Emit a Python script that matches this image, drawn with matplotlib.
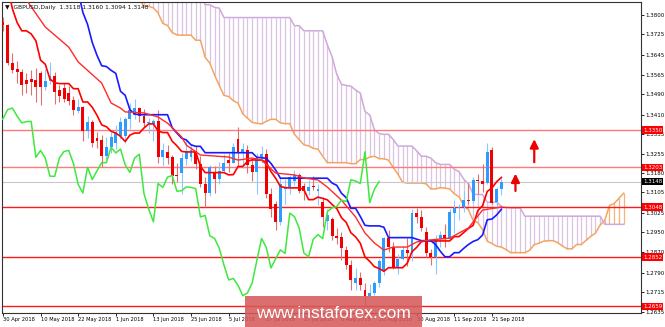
import numpy as np
import matplotlib.pyplot as plt
import matplotlib.transforms as mtransforms
from matplotlib.patches import Rectangle

# velas diarias GBPUSD, barra 0 = 30 abr 2018, barra 106 = 25 sep 2018
opens = [1.3775, 1.3761, 1.3613, 1.3590, 1.3579, 1.3545, 1.3550, 1.3546, 1.3575, 1.3520,
         1.3541, 1.3563, 1.3507, 1.3515, 1.3495, 1.3468, 1.3425, 1.3440, 1.3345, 1.3380,
         1.3320, 1.3310, 1.3248, 1.3283, 1.3300, 1.3325, 1.3328, 1.3394, 1.3410, 1.3436,
         1.3405, 1.3378, 1.3372, 1.3384, 1.3243, 1.3264, 1.3245, 1.3175, 1.3180, 1.3235,
         1.3245, 1.3268, 1.3218, 1.3137, 1.3103, 1.3185, 1.3156, 1.3190, 1.3233, 1.3222,
         1.3315, 1.3260, 1.3270, 1.3213, 1.3184, 1.3240, 1.3255, 1.3100, 1.3060, 1.2990,
         1.3120, 1.3125, 1.3150, 1.3172, 1.3130, 1.3112, 1.3130, 1.3110, 1.3068, 1.2995,
         1.3000, 1.2935, 1.2930, 1.2879, 1.2821, 1.2752, 1.2768, 1.2723, 1.2700, 1.2711,
         1.2750, 1.2801, 1.2925, 1.2891, 1.2809, 1.2845, 1.2880, 1.2866, 1.3024, 1.3010,
         1.2950, 1.2868, 1.2852, 1.2922, 1.2940, 1.2924, 1.3024, 1.3045, 1.3050, 1.3075,
         1.3070, 1.3155, 1.3150, 1.3142, 1.3270, 1.3068, 1.3118]
highs = [1.3795, 1.3767, 1.3652, 1.3622, 1.3590, 1.3575, 1.3584, 1.3593, 1.3580, 1.3588,
         1.3615, 1.3578, 1.3527, 1.3536, 1.3522, 1.3485, 1.3472, 1.3445, 1.3406, 1.3390,
         1.3341, 1.3330, 1.3322, 1.3344, 1.3370, 1.3400, 1.3400, 1.3456, 1.3472, 1.3440,
         1.3431, 1.3398, 1.3394, 1.3427, 1.3300, 1.3290, 1.3253, 1.3221, 1.3260, 1.3315,
         1.3297, 1.3289, 1.3250, 1.3165, 1.3212, 1.3207, 1.3225, 1.3255, 1.3260, 1.3300,
         1.3363, 1.3300, 1.3290, 1.3237, 1.3259, 1.3287, 1.3276, 1.3124, 1.3070, 1.3163,
         1.3158, 1.3175, 1.3195, 1.3182, 1.3141, 1.3155, 1.3170, 1.3140, 1.3089, 1.3042,
         1.3009, 1.2966, 1.2952, 1.2895, 1.2841, 1.2808, 1.2792, 1.2752, 1.2747, 1.2759,
         1.2845, 1.2930, 1.2958, 1.2910, 1.2864, 1.2897, 1.2928, 1.3042, 1.3044, 1.3038,
         1.2970, 1.2883, 1.2940, 1.2954, 1.2980, 1.3040, 1.3077, 1.3060, 1.3110, 1.3141,
         1.3165, 1.3178, 1.3215, 1.3298, 1.3283, 1.3128, 1.3160]
lows = [1.3737, 1.3606, 1.3572, 1.3533, 1.3487, 1.3496, 1.3489, 1.3460, 1.3448, 1.3507,
        1.3530, 1.3452, 1.3459, 1.3460, 1.3448, 1.3409, 1.3416, 1.3305, 1.3320, 1.3285,
        1.3279, 1.3204, 1.3235, 1.3260, 1.3275, 1.3314, 1.3298, 1.3355, 1.3392, 1.3380,
        1.3362, 1.3340, 1.3305, 1.3220, 1.3207, 1.3218, 1.3140, 1.3146, 1.3100, 1.3214,
        1.3230, 1.3198, 1.3127, 1.3050, 1.3090, 1.3102, 1.3138, 1.3185, 1.3184, 1.3221,
        1.3205, 1.3201, 1.3180, 1.3150, 1.3100, 1.3220, 1.3085, 1.3010, 1.2958, 1.2978,
        1.3058, 1.3100, 1.3134, 1.3104, 1.3074, 1.3096, 1.3115, 1.3055, 1.2969, 1.2957,
        1.2920, 1.2902, 1.2841, 1.2806, 1.2723, 1.2722, 1.2722, 1.2661, 1.2697, 1.2704,
        1.2735, 1.2780, 1.2870, 1.2803, 1.2786, 1.2840, 1.2815, 1.2838, 1.2985, 1.2955,
        1.2853, 1.2820, 1.2786, 1.2891, 1.2890, 1.2920, 1.2948, 1.2996, 1.3029, 1.3060,
        1.3062, 1.3100, 1.3108, 1.3140, 1.3059, 1.3050, 1.3094]
closes = [1.3761, 1.3613, 1.3584, 1.3579, 1.3527, 1.3532, 1.3540, 1.3520, 1.3520, 1.3541,
          1.3563, 1.3499, 1.3482, 1.3470, 1.3463, 1.3430, 1.3440, 1.3345, 1.3380, 1.3300,
          1.3305, 1.3248, 1.3285, 1.3322, 1.3342, 1.3380, 1.3394, 1.3430, 1.3436, 1.3405,
          1.3378, 1.3383, 1.3384, 1.3243, 1.3270, 1.3240, 1.3169, 1.3168, 1.3240, 1.3266,
          1.3270, 1.3218, 1.3137, 1.3103, 1.3204, 1.3156, 1.3190, 1.3222, 1.3222, 1.3282,
          1.3260, 1.3275, 1.3213, 1.3184, 1.3240, 1.3255, 1.3100, 1.3040, 1.2990, 1.3140,
          1.3125, 1.3165, 1.3172, 1.3110, 1.3112, 1.3127, 1.3125, 1.3120, 1.3009, 1.3015,
          1.2935, 1.2925, 1.2887, 1.2821, 1.2762, 1.2768, 1.2741, 1.2700, 1.2711, 1.2750,
          1.2838, 1.2925, 1.2890, 1.2809, 1.2845, 1.2880, 1.2866, 1.3024, 1.3010, 1.2965,
          1.2868, 1.2852, 1.2922, 1.2940, 1.2924, 1.3030, 1.3045, 1.3050, 1.3075, 1.3070,
          1.3155, 1.3150, 1.3140, 1.3265, 1.3065, 1.3118, 1.3148]

# ichimoku
tenkan_start = 0
tenkan = [1.4010, 1.3920, 1.3826, 1.3772, 1.3739, 1.3739, 1.3727, 1.3700, 1.3624, 1.3608,
          1.3550, 1.3535, 1.3532, 1.3532, 1.3532, 1.3512, 1.3512, 1.3460, 1.3460, 1.3439,
          1.3408, 1.3370, 1.3363, 1.3345, 1.3338, 1.3325, 1.3305, 1.3330, 1.3338, 1.3338,
          1.3358, 1.3374, 1.3374, 1.3346, 1.3340, 1.3340, 1.3306, 1.3288, 1.3266, 1.3264,
          1.3264, 1.3264, 1.3208, 1.3183, 1.3183, 1.3183, 1.3183, 1.3183, 1.3174, 1.3175,
          1.3207, 1.3207, 1.3227, 1.3233, 1.3232, 1.3232, 1.3224, 1.3187, 1.3161, 1.3129,
          1.3124, 1.3123, 1.3123, 1.3123, 1.3117, 1.3077, 1.3077, 1.3087, 1.3082, 1.3076,
          1.3058, 1.3042, 1.3006, 1.2988, 1.2947, 1.2931, 1.2906, 1.2852, 1.2835, 1.2814,
          1.2807, 1.2796, 1.2810, 1.2810, 1.2810, 1.2810, 1.2828, 1.2873, 1.2890, 1.2912,
          1.2915, 1.2915, 1.2915, 1.2915, 1.2915, 1.2915, 1.2932, 1.2932, 1.2948, 1.2964,
          1.2976, 1.3034, 1.3053, 1.3109, 1.3123, 1.3147, 1.3164]
kijun_start = 13
kijun = [1.3913, 1.3913, 1.3893, 1.3893, 1.3811, 1.3764, 1.3693, 1.3643, 1.3602, 1.3599,
         1.3584, 1.3572, 1.3502, 1.3486, 1.3430, 1.3413, 1.3410, 1.3410, 1.3410, 1.3410,
         1.3410, 1.3410, 1.3410, 1.3359, 1.3338, 1.3318, 1.3311, 1.3292, 1.3286, 1.3286,
         1.3261, 1.3261, 1.3261, 1.3261, 1.3261, 1.3261, 1.3261, 1.3261, 1.3261, 1.3261,
         1.3261, 1.3243, 1.3241, 1.3239, 1.3219, 1.3193, 1.3161, 1.3161, 1.3161, 1.3161,
         1.3161, 1.3161, 1.3161, 1.3161, 1.3161, 1.3161, 1.3161, 1.3142, 1.3133, 1.3102,
         1.3085, 1.3043, 1.3043, 1.3011, 1.2976, 1.2974, 1.2974, 1.2974, 1.2969, 1.2928,
         1.2928, 1.2928, 1.2928, 1.2928, 1.2928, 1.2922, 1.2916, 1.2916, 1.2916, 1.2901,
         1.2875, 1.2853, 1.2853, 1.2869, 1.2869, 1.2886, 1.2901, 1.2913, 1.2920, 1.2938,
         1.2998, 1.3001, 1.3017, 1.3039]
span_start = 29
span_a = [1.3863, 1.3835, 1.3835, 1.3829, 1.3809, 1.3768, 1.3760, 1.3732, 1.3723, 1.3722,
          1.3722, 1.3722, 1.3702, 1.3702, 1.3635, 1.3612, 1.3566, 1.3525, 1.3486, 1.3481,
          1.3465, 1.3455, 1.3414, 1.3396, 1.3380, 1.3376, 1.3374, 1.3384, 1.3392, 1.3392,
          1.3378, 1.3375, 1.3375, 1.3333, 1.3313, 1.3292, 1.3288, 1.3278, 1.3275, 1.3247,
          1.3222, 1.3222, 1.3222, 1.3222, 1.3222, 1.3218, 1.3218, 1.3234, 1.3234, 1.3244,
          1.3247, 1.3238, 1.3237, 1.3232, 1.3203, 1.3177, 1.3145, 1.3142, 1.3142, 1.3142,
          1.3142, 1.3139, 1.3119, 1.3119, 1.3124, 1.3122, 1.3119, 1.3100, 1.3088, 1.3054,
          1.3037, 1.2995, 1.2987, 1.2959, 1.2914, 1.2905, 1.2894, 1.2891, 1.2881, 1.2869,
          1.2869, 1.2869, 1.2869, 1.2878, 1.2901, 1.2906, 1.2914, 1.2916, 1.2916, 1.2908,
          1.2895, 1.2884, 1.2884, 1.2901, 1.2901, 1.2917, 1.2933, 1.2945, 1.2977, 1.2996,
          1.3054, 1.3062, 1.3082, 1.3102]
span_b = [1.3955, 1.3932, 1.3932, 1.3932, 1.3919, 1.3913, 1.3913, 1.3913, 1.3913, 1.3913,
          1.3913, 1.3913, 1.3893, 1.3893, 1.3841, 1.3841, 1.3831, 1.3828, 1.3791, 1.3791,
          1.3791, 1.3791, 1.3791, 1.3791, 1.3791, 1.3791, 1.3791, 1.3791, 1.3791, 1.3791,
          1.3791, 1.3791, 1.3791, 1.3759, 1.3759, 1.3739, 1.3739, 1.3739, 1.3739, 1.3739,
          1.3684, 1.3637, 1.3568, 1.3529, 1.3525, 1.3522, 1.3507, 1.3495, 1.3423, 1.3409,
          1.3351, 1.3336, 1.3333, 1.3333, 1.3313, 1.3287, 1.3287, 1.3287, 1.3287, 1.3268,
          1.3247, 1.3247, 1.3240, 1.3222, 1.3215, 1.3215, 1.3215, 1.3196, 1.3187, 1.3157,
          1.3139, 1.3098, 1.3097, 1.3097, 1.3067, 1.3067, 1.3067, 1.3051, 1.3046, 1.3044,
          1.3044, 1.3044, 1.3012, 1.3012, 1.3012, 1.3012, 1.3012, 1.3012, 1.3012, 1.3012,
          1.3012, 1.3012, 1.3012, 1.3012, 1.3012, 1.3012, 1.3012, 1.3012, 1.3012, 1.2980,
          1.2980, 1.2980, 1.2980, 1.2980]
chikou_shift = 26

# media movil roja extra (vertices leidos)
ma_idx = [3, 5, 9, 14, 16, 21, 23, 25, 26, 30, 33, 35, 38, 39, 42, 48, 50, 53, 55, 58,
          62, 64, 67, 69, 72, 75, 77, 79, 81, 83, 86, 88, 91, 95, 99, 102, 106]
ma_val = [1.3900, 1.3860, 1.3754, 1.3675, 1.3617, 1.3534, 1.3456, 1.3436, 1.3421, 1.3417,
          1.3401, 1.3377, 1.3323, 1.3291, 1.3252, 1.3244, 1.3232, 1.3240, 1.3232, 1.3181,
          1.3174, 1.3162, 1.3154, 1.3126, 1.3075, 1.3009, 1.2946, 1.2907, 1.2879, 1.2891,
          1.2891, 1.2911, 1.2919, 1.2926, 1.2966, 1.3036, 1.3048]

date_idx = [0, 8, 16, 24, 32, 40, 48, 56, 64, 72, 80, 88, 96, 104]
date_labels = ["30 Apr 2018", "10 May 2018", "22 May 2018", "1 Jun 2018", "13 Jun 2018",
               "25 Jun 2018", "5 Jul 2018", "17 Jul 2018", "27 Jul 2018", "8 Aug 2018",
               "20 Aug 2018", "30 Aug 2018", "11 Sep 2018", "21 Sep 2018"]
price_ticks = [1.3800, 1.3725, 1.3645, 1.3565, 1.3490, 1.3410, 1.3335, 1.3255, 1.3180,
               1.3105, 1.3025, 1.2950, 1.2870, 1.2790, 1.2715, 1.2635]

levels = [1.3350, 1.3203, 1.3048, 1.2852, 1.2659]
level_colors = ["#ff7a7a", "#ff7a7a", "#ff1a1a", "#ff1a1a", "#ff1a1a"]
last_price = 1.3148

arrow_idx = [109, 113]
arrow_from = [1.3100, 1.3213]
arrow_to = [1.3190, 1.3325]

fig = plt.figure(figsize=(6.65, 3.27), dpi=100)
ax = fig.add_axes([2 / 665, 14 / 327, 639 / 665, 311 / 327])

# nube (rayado vertical por barra)
j = np.arange(len(span_a)) + span_start
sa = np.array(span_a)
sb = np.array(span_b)
hatch_col = np.where(sb >= sa, "#dcc3e3", "#f6b27a")
ax.vlines(j, np.minimum(sa, sb), np.maximum(sa, sb), colors=hatch_col, lw=0.9, zorder=1)
ax.plot(j, sa, color="#f4a460", lw=1.1, zorder=2)
ax.plot(j, sb, color="#cfa9d9", lw=1.1, zorder=2)

# niveles horizontales
for lv, c in zip(levels, level_colors):
    ax.axhline(lv, color=c, lw=1.0, zorder=2)
ax.axhline(last_price, color="#c8c8c8", lw=0.8, zorder=2)

# velas
x = np.arange(len(closes))
o = np.array(opens)
c = np.array(closes)
up = c >= o
body_col = np.where(up, "#2e9cff", "#f00000")
wick_col = np.where(up, "#8cc8ff", "#e07070")
ax.vlines(x, lows, highs, colors=wick_col, lw=0.8, zorder=3)
bottom = np.minimum(o, c)
height = np.maximum(np.abs(c - o), 0.0003)
ax.bar(x, height, bottom=bottom, width=0.62, color=body_col, lw=0, zorder=4)

# lineas ichimoku y media
ax.plot(np.arange(len(tenkan)) + tenkan_start, tenkan, color="#ff0000", lw=1.2, zorder=5)
ax.plot(np.arange(len(kijun)) + kijun_start, kijun, color="#1a1aff", lw=1.2, zorder=5)
ax.plot(ma_idx, ma_val, color="#ff2a2a", lw=1.0, zorder=5)
ax.plot(x - chikou_shift, closes, color="#3ee83e", lw=1.1, zorder=5)

# flechas
for ai, a0, a1 in zip(arrow_idx, arrow_from, arrow_to):
    ax.annotate("", xy=(ai, a1), xytext=(ai, a0),
                arrowprops=dict(arrowstyle="-|>,head_width=0.25,head_length=0.5",
                                color="#ee0000", lw=1.6), zorder=6)

ax.set_xlim(-0.2, 135.7)
ax.set_ylim(1.26324, 1.38520)

ax.yaxis.tick_right()
ax.set_yticks(price_ticks)
ax.set_yticklabels([f"{p:.4f}" for p in price_ticks])
ax.tick_params(axis="y", labelsize=4.0, length=2, pad=1, width=0.6)
ax.set_xticks(date_idx)
ax.set_xticklabels(date_labels)
ax.tick_params(axis="x", labelsize=3.7, length=2, pad=1, width=0.6)
for lab in ax.get_xticklabels():
    lab.set_ha("left")
for s in ax.spines.values():
    s.set_linewidth(0.8)
    s.set_color("#333333")

# etiquetas de precio a la derecha
trans = mtransforms.blended_transform_factory(ax.transAxes, ax.transData)
for lv in levels:
    ax.text(1.003, lv, f"{lv:.4f}", transform=trans, ha="left", va="center", fontsize=4.0,
            color="white", zorder=10, clip_on=False,
            bbox=dict(boxstyle="square,pad=0.2", fc="#ff0000", ec="none"))
ax.text(1.003, last_price, f"{last_price:.4f}", transform=trans, ha="left", va="center",
        fontsize=4.0, color="white", zorder=10, clip_on=False,
        bbox=dict(boxstyle="square,pad=0.2", fc="#000000", ec="none"))

# cabecera
ax.text(0.004, 0.982, "\u25bc  GBPUSD,Daily  1.3118 1.3160 1.3094 1.3148", transform=ax.transAxes,
        ha="left", va="center", fontsize=4.3, color="#111111", zorder=10)

# marca de agua
fig.patches.append(Rectangle((245 / 665, 0), 177 / 665, 31 / 327, transform=fig.transFigure,
                             fc="#d65a5a", ec="none", alpha=0.88, zorder=20))
fig.text(333 / 665, 14 / 327, "www.instaforex.com", ha="center", va="center", fontsize=12.5,
         color="white", family="Liberation Sans", zorder=21)

fig.savefig("out.png", dpi=100)
